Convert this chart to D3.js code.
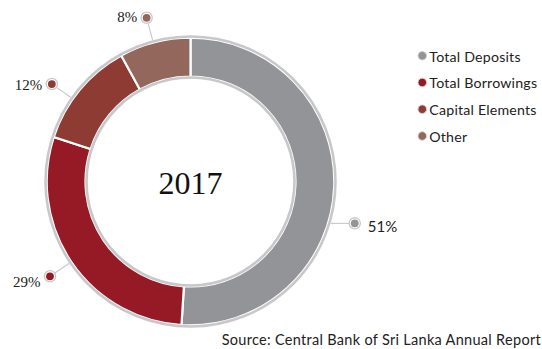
<!DOCTYPE html>
<html>
<head>
<meta charset="utf-8">
<script src="https://cdn.jsdelivr.net/npm/d3@7"></script>
<style>
  html, body { margin: 0; padding: 0; background: #fff; }
  svg { display: block; }
</style>
</head>
<body>
<svg id="chart" width="542" height="349"></svg>
<script>
// Funding structure, 2017 (share of total, %)
const categories = ["Total Deposits", "Total Borrowings", "Capital Elements", "Other"];
const shares = [51, 29, 12, 8];
const sliceColors = ["#939497", "#961a25", "#8e3b34", "#93675b"];
const yearLabel = "2017";
const sourceText = "Source: Central Bank of Sri Lanka Annual Report";

// Leader placement tweaks (degrees of rotation from slice middle, vertical text nudge)
const leaderAngleShift = [12.5, 0.2, -4.5, -0.6];
const labelNudgeY = [2.5, 5.5, 0.5, -0.5];

const W = 542, H = 349;
const cx = 190.5, cy = 181.5;
const outerR = 145, innerR = 104;
const markerR = 169.5;
const ringColor = "#c8c8ca";
const sansFont = "Lato, 'Open Sans', sans-serif";

const svg = d3.select("#chart");
const g = svg.append("g").attr("transform", `translate(${cx},${cy})`);

const pie = d3.pie().sort(null).value(d => d.value);
const data = pie(categories.map((c, i) => ({ name: c, value: shares[i], color: sliceColors[i], i })));

const arc = d3.arc().innerRadius(innerR + 1).outerRadius(outerR - 1.2);

// Slices, separated by thin white strokes
g.selectAll("path.slice")
  .data(data)
  .join("path")
  .attr("class", "slice")
  .attr("d", arc)
  .attr("fill", d => d.data.color)
  .attr("stroke", "#fff")
  .attr("stroke-width", 2.2)
  .attr("stroke-linejoin", "miter");

// Light rims around the ring
g.append("circle").attr("r", outerR).attr("fill", "none")
  .attr("stroke", ringColor).attr("stroke-width", 2.6);
g.append("circle").attr("r", innerR).attr("fill", "none")
  .attr("stroke", ringColor).attr("stroke-width", 2.6);

// Centre year
g.append("text")
  .attr("text-anchor", "middle")
  .attr("dominant-baseline", "central")
  .attr("y", 1)
  .style("font-family", "'Liberation Serif', 'DejaVu Serif', serif")
  .style("font-size", "32px")
  .attr("fill", "#111")
  .text(yearLabel);

// Leader lines, markers and percentage labels
const toXY = (angle, r) => [Math.sin(angle) * r, -Math.cos(angle) * r];

data.forEach((d, i) => {
  const mid = (d.startAngle + d.endAngle) / 2 + leaderAngleShift[i] * Math.PI / 180;
  const [mx, my] = toXY(mid, markerR);
  const right = mx > 0;
  let sx, sy;
  if (right) {
    // horizontal leader on the right side
    sy = my;
    sx = Math.sqrt(outerR * outerR - sy * sy) + 1.5;
  } else {
    [sx, sy] = toXY(mid, outerR + 1.5);
  }
  const dx = mx - sx, dy = my - sy, len = Math.hypot(dx, dy);
  const ex = mx - dx / len * 5.8, ey = my - dy / len * 5.8;
  g.append("line")
    .attr("x1", sx).attr("y1", sy).attr("x2", ex).attr("y2", ey)
    .attr("stroke", ringColor).attr("stroke-width", 1.1);
  g.append("circle").attr("cx", mx).attr("cy", my).attr("r", 5.6)
    .attr("fill", "#fff").attr("stroke", ringColor).attr("stroke-width", 1.3);
  g.append("circle").attr("cx", mx).attr("cy", my).attr("r", 3.9)
    .attr("fill", d.data.color);
  g.append("text")
    .attr("x", right ? mx + 13 : mx - 9.5)
    .attr("y", my + labelNudgeY[i])
    .attr("text-anchor", right ? "start" : "end")
    .attr("dominant-baseline", "central")
    .style("font-family", right ? sansFont : "'Liberation Serif', serif")
    .style("font-size", "15px")
    .attr("fill", "#222")
    .text(d.data.value + "%");
});

// Legend
const legendY = d3.scalePoint().domain(categories).range([55.7, 136]);
const legend = svg.append("g").selectAll("g")
  .data(categories)
  .join("g")
  .attr("transform", c => `translate(422.3,${legendY(c)})`);
legend.append("circle")
  .attr("r", 4.3)
  .attr("fill", (c, i) => sliceColors[i])
  .attr("stroke", "#d4d4d6")
  .attr("stroke-width", 1);
legend.append("text")
  .attr("x", 7)
  .attr("dominant-baseline", "central")
  .attr("y", 0.5)
  .style("font-family", sansFont)
  .style("font-size", "14.2px")
  .style("letter-spacing", "0.2px")
  .attr("fill", "#222")
  .text(c => c);

// Source note
svg.append("text")
  .attr("x", 541)
  .attr("y", 345)
  .attr("text-anchor", "end")
  .style("font-family", sansFont)
  .style("font-size", "14.5px")
  .style("letter-spacing", "0.3px")
  .attr("fill", "#222")
  .text(sourceText);
</script>
</body>
</html>
